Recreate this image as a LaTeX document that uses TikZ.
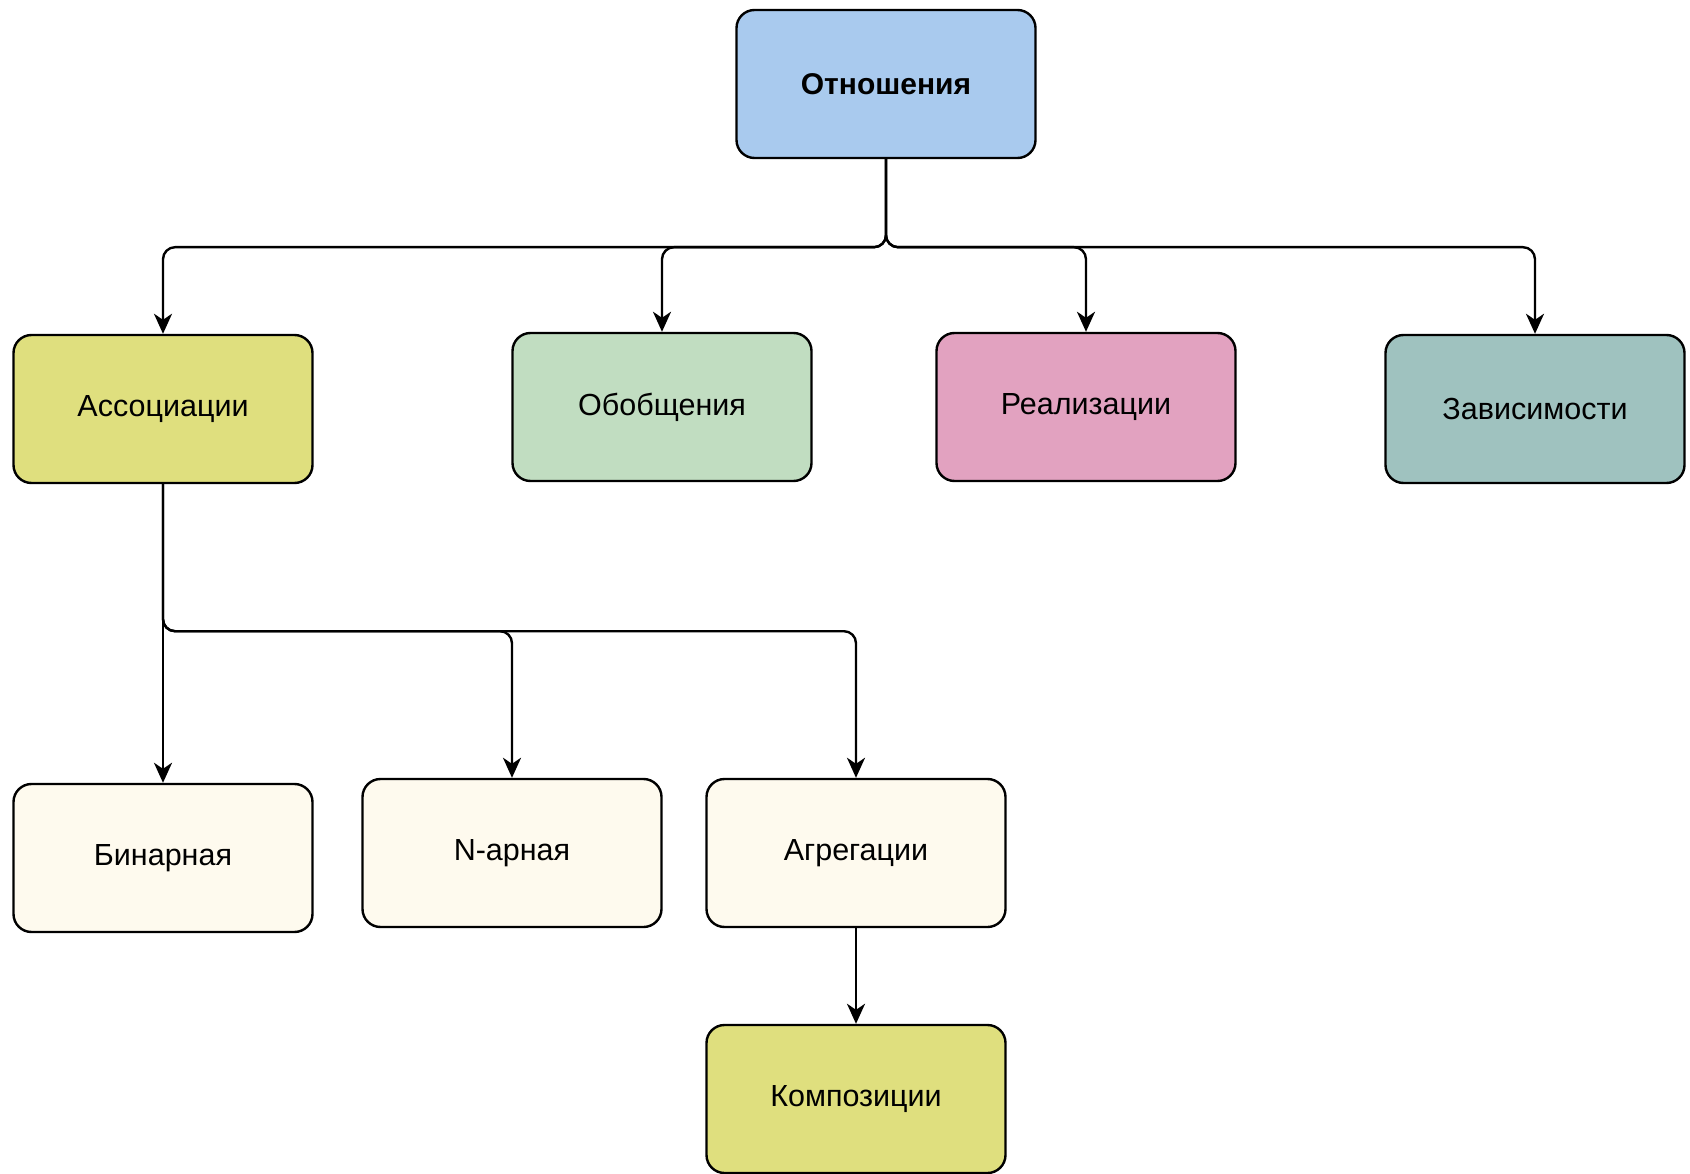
\documentclass[tikz,border=0pt]{standalone}
\usepackage{fontspec}
\setmainfont{Liberation Sans}
\usetikzlibrary{arrows.meta}
\definecolor{cBlue}{HTML}{A9CAEE}
\definecolor{cYellow}{HTML}{DFDF7E}
\definecolor{cGreen}{HTML}{C1DDC1}
\definecolor{cPink}{HTML}{E2A2C0}
\definecolor{cTeal}{HTML}{9FC2BF}
\definecolor{cCream}{HTML}{FEFAEE}
\begin{document}
\begin{tikzpicture}[x=1pt,y=-1pt,
  box/.style={draw=black, line width=2.4pt, rounded corners=18pt,
    minimum width=299pt, minimum height=148pt, inner sep=0pt,
    font=\fontsize{30.5}{36}\selectfont},
  link/.style={draw=black, line width=2.4pt, rounded corners=12pt,
    -{Stealth[length=20pt,width=18pt,inset=6pt]}}]
\useasboundingbox (0,0) rectangle (1690,1174);

% top level
\node[box, fill=cBlue, font=\fontsize{30}{36}\selectfont\bfseries] (rel) at (886,84) {Отношения};

% kinds of relations
\node[box, fill=cYellow] (assoc) at (163,409) {Ассоциации};
\node[box, fill=cGreen]  (gen)   at (662,407) {Обобщения};
\node[box, fill=cPink]   (real)  at (1086,407) {Реализации};
\node[box, fill=cTeal]   (dep)   at (1535,409) {Зависимости};

% kinds of associations
\node[box, fill=cCream] (bin)  at (163,858) {Бинарная};
\node[box, fill=cCream] (nary) at (512,853) {N-арная};
\node[box, fill=cCream] (agg)  at (856,853) {Агрегации};
\node[box, fill=cYellow] (comp) at (856,1099) {Композиции};

% connectors from the root
\draw[link] (rel.south) -- ++(0,88) -| (assoc.north);
\draw[link] (rel.south) -- ++(0,88) -| (gen.north);
\draw[link] (rel.south) -- ++(0,88) -| (real.north);
\draw[link] (rel.south) -- ++(0,88) -| (dep.north);

% connectors from associations
\draw[link] (assoc.south) -- (bin.north);
\draw[link] (assoc.south) -- ++(0,147) -| (nary.north);
\draw[link] (assoc.south) -- ++(0,147) -| (agg.north);
\draw[link] (agg.south) -- (comp.north);
\end{tikzpicture}
\end{document}
